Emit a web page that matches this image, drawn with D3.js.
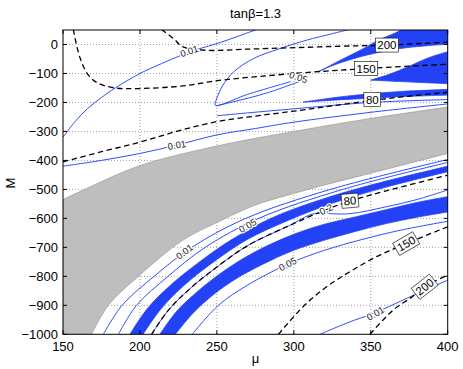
<!DOCTYPE html>
<html>
<head>
<meta charset="utf-8">
<script src="https://cdn.jsdelivr.net/npm/d3@7"></script>
<style>
	body { margin: 0; background: #fff; }
	text { font-family: "Liberation Sans", Arial, Helvetica, sans-serif; }
</style>
</head>
<body>
<script>
// tick labels
	var muTicks = [150, 200, 250, 300, 350, 400],
		mTicks = [0, -100, -200, -300, -400, -500, -600, -700, -800, -900, -1000];

// excluded (grey) region, [mu, M]
	var greyTop = [[150,-535],[164,-500],[200,-418],[250,-350],[300,-300],[350,-255],[400,-216]],
		greyBottom = [[168.6,-1000],[179.5,-900],[199,-800],[228,-675],[251,-612],[275,-554],[300,-514],[325,-478],[350,-444],[375,-410],[400,-376]];

// dashed (black) contours
	var dash150up = [[156.7,52],[161,-45],[166.5,-106],[173,-134],[183.8,-150],[199,-152],[228,-143],[250,-125],[300,-100],[347,-83],[400,-68]],
		dash200up = [[214,52],[221.7,21],[228,-8],[243,-20],[270,-16],[300,-11],[330,-6],[360,-2],[400,8]],
		dash80up = [[150,-405],[175,-370],[200,-337],[225,-298],[250,-266],[275,-247],[300,-230],[325,-212],[351,-193],[375,-178],[400,-165]],
		dash80low = [[207.6,-1000],[218,-920],[232,-845],[250,-768],[270,-694],[297,-625],[320,-572],[337,-539],[360,-505],[400,-451]],
		dash150low = [[290,-1000],[306,-905],[321.3,-836],[336.5,-784],[353.8,-732],[373,-687],[400,-629]],
		dash200low = [[349.5,-1000],[364.6,-916],[375.5,-876],[385,-836],[400,-796]];

// thin blue contours
	var blue001a = [[150,-320],[158,-265],[166,-221],[175,-183],[184,-150],[200,-100],[214,-66],[227,-37],[239,-14],[250,3],[262,25],[276,52]],
		blue005a = [[336,52],[321,32],[309,16],[291,-14],[274,-48],[261,-94],[254,-140],[250,-185],[249,-210],[270,-172],[298,-128]],
		blue005b = [[305,-125],[282,-168],[262,-196],[250,-211]],
		blueUp3 = [[250,-246],[270,-236],[300,-222],[350,-200],[400,-190]],
		blue001b = [[150,-420],[175,-400],[200,-376],[224,-347],[250,-312],[275,-290],[300,-268],[350,-234],[400,-205]],
		blue001c = [[176.2,-1000],[188.4,-900],[209.2,-800],[233.7,-700],[268.8,-600],[323.8,-500],[400,-397]],
		blue005c = [[186,-1000],[197.8,-900],[218.3,-800],[242.4,-700],[277.2,-600],[331.8,-500],[400,-407]],
		blue02 = [[207.6,-1000],[218,-920],[232,-845],[250,-768],[270,-694],[297,-625],[312,-585],[318,-583],[336,-584],[360,-560],[380,-535],[400,-502]],
		blue005d = [[234,-1000],[251,-900],[270,-830],[296,-758],[320,-710],[345,-672],[370,-640],[400,-610]],
		blue001d = [[317,-1000],[335,-960],[353,-925],[375,-872],[400,-813]];

// filled blue bands: upper edge, lower edge
	var band1Top = [[316,-94],[330,-55],[345,-15],[355,15],[364,35],[375,60],[410,75]],
		band1Bot = [[316,-94],[326,-71],[347,-37],[369,-14],[385,-5],[410,5]],
		band2Top = [[350,-123],[362,-103],[375,-75],[388,-45],[410,-10]],
		band2Bot = [[350,-123],[370,-128],[390,-133],[410,-138]],
		band3Top = [[306,-199],[320,-188],[340,-175],[370,-162],[410,-153]],
		band3Bot = [[306,-199],[320,-194],[340,-188],[370,-180],[410,-173]],
		bandATop = [[193.5,-1000],[205,-910],[220,-830],[240,-745],[260,-672],[285,-600],[315,-540],[350,-485],[400,-420]],
		bandABot = [[202,-1000],[214,-910],[230,-825],[250,-742],[270,-672],[295,-610],[325,-548],[360,-492],[400,-439]],
		bandBTop = [[213,-1000],[224,-920],[238,-850],[255,-780],[275,-715],[300,-655],[320,-620],[340,-595],[360,-570],[380,-545],[400,-525]],
		bandBBot = [[223,-1000],[234,-930],[248,-862],[265,-800],[285,-745],[300,-710],[320,-675],[340,-645],[360,-618],[380,-596],[400,-578]];

// contour labels: text, [mu, M], rotation
	var boxLabels = [['200',[360.5,-2],0],['150',[347,-83],0],['80',[351,-190],0],
			['80',[336.5,-539],-5],['150',[373,-687],-30],['200',[385,-836],-38]],
		blueLabels = [['0.01',[232,-23],-18],['0.05',[303,-113],18],['0.01',[224,-347],-10],
			['0.01',[229,-715],-38],['0.05',[270,-625],-30],['0.2',[321,-569],-25],
			['0.05',[296,-758],-28],['0.01',[353,-928],-30]];

// layout
	var width = 463,
		height = 369,
		pLeft = 63, pRight = 447.7, pTop = 30, pBottom = 334.3,
		blue = '#2d4cff',
		bandFill = '#2342f5';

	var x = d3.scaleLinear().domain([150, 400]).range([pLeft, pRight]),
		y = d3.scaleLinear().domain([-1000, 50]).range([pBottom, pTop]);

	var line = d3.line()
		.x(function(d) { return x(d[0]); })
		.y(function(d) { return y(d[1]); })
		.curve(d3.curveCatmullRom.alpha(0.5));

	function poly(a, b) {
		return line(a) + line(b.slice().reverse()).replace(/^M/, 'L') + 'Z';
	}

	var svg = d3.select('body').append('svg')
		.attr('width', width)
		.attr('height', height);

	svg.append('clipPath').attr('id', 'clip')
	  .append('rect')
		.attr('x', pLeft).attr('y', pTop)
		.attr('width', pRight - pLeft).attr('height', pBottom - pTop);

// grid
	var grid = svg.append('g')
		.attr('stroke', '#8a8a8a')
		.attr('stroke-width', 0.8)
		.attr('stroke-dasharray', '1,2');
	grid.selectAll('.gx').data(muTicks.slice(1, -1)).enter().append('line')
		.attr('x1', x).attr('x2', x)
		.attr('y1', pTop).attr('y2', pBottom);
	grid.selectAll('.gy').data(mTicks.slice(0, -1)).enter().append('line')
		.attr('x1', pLeft).attr('x2', pRight)
		.attr('y1', y).attr('y2', y);

	var plot = svg.append('g').attr('clip-path', 'url(#clip)');

// grey region: upper edge, then lower edge back, then straight along the bottom
	plot.append('path')
		.attr('d', line(greyTop) + line(greyBottom.slice().reverse()).replace(/^M/, 'L')
			+ 'L' + x(150) + ',' + y(-1000) + 'Z')
		.attr('fill', '#bebebe')
		.attr('stroke', '#8c8c8c')
		.attr('stroke-width', 0.6);

// blue bands
	[[band1Top, band1Bot], [band2Top, band2Bot], [band3Top, band3Bot],
	 [bandATop, bandABot], [bandBTop, bandBBot]].forEach(function(b) {
		plot.append('path')
			.attr('d', poly(b[0], b[1]))
			.attr('fill', bandFill)
			.attr('stroke', bandFill)
			.attr('stroke-width', 0.8);
	});

// thin blue lines
	[blue001a, blue005a, blue005b, blueUp3, blue001b, blue001c, blue005c, blue02, blue005d, blue001d]
		.forEach(function(l) {
			plot.append('path')
				.attr('d', line(l))
				.attr('fill', 'none')
				.attr('stroke', blue)
				.attr('stroke-width', 1);
		});

// dashed lines
	[dash150up, dash200up, dash80up, dash80low, dash150low, dash200low].forEach(function(l) {
		plot.append('path')
			.attr('d', line(l))
			.attr('fill', 'none')
			.attr('stroke', '#000')
			.attr('stroke-width', 1.3)
			.attr('stroke-dasharray', '5.5,3.5');
	});

// labels on blue lines
	blueLabels.forEach(function(l) {
		svg.append('text')
			.attr('transform', 'translate(' + x(l[1][0]) + ',' + y(l[1][1]) + ') rotate(' + l[2] + ')')
			.attr('text-anchor', 'middle')
			.attr('dy', '0.35em')
			.style('font-size', '9.5px')
			.attr('fill', '#222')
			.attr('stroke', '#fff')
			.attr('stroke-width', 2.5)
			.attr('paint-order', 'stroke')
			.text(l[0]);
	});

// boxed labels on dashed lines
	boxLabels.forEach(function(l) {
		var g = svg.append('g')
			.attr('transform', 'translate(' + x(l[1][0]) + ',' + y(l[1][1]) + ') rotate(' + l[2] + ')');
		var t = g.append('text')
			.attr('text-anchor', 'middle')
			.attr('dy', '0.36em')
			.style('font-size', '11.5px')
			.text(l[0]);
		var w = t.node().getComputedTextLength();
		g.insert('rect', 'text')
			.attr('x', -w / 2 - 2).attr('y', -7)
			.attr('width', w + 4).attr('height', 14)
			.attr('fill', '#fff')
			.attr('stroke', '#000')
			.attr('stroke-width', 0.6);
	});

// box and ticks
	svg.append('rect')
		.attr('x', pLeft).attr('y', pTop)
		.attr('width', pRight - pLeft).attr('height', pBottom - pTop)
		.attr('fill', 'none')
		.attr('stroke', '#000')
		.attr('stroke-width', 1);

	var ticks = svg.append('g').attr('stroke', '#000').attr('stroke-width', 1);
	muTicks.forEach(function(t) {
		ticks.append('line').attr('x1', x(t)).attr('x2', x(t)).attr('y1', pBottom).attr('y2', pBottom - 4);
		ticks.append('line').attr('x1', x(t)).attr('x2', x(t)).attr('y1', pTop).attr('y2', pTop + 4);
	});
	mTicks.forEach(function(t) {
		ticks.append('line').attr('x1', pLeft).attr('x2', pLeft + 4).attr('y1', y(t)).attr('y2', y(t));
		ticks.append('line').attr('x1', pRight).attr('x2', pRight - 4).attr('y1', y(t)).attr('y2', y(t));
	});

	svg.selectAll('.xl').data(muTicks).enter().append('text')
		.attr('x', x).attr('y', 351)
		.attr('text-anchor', 'middle')
		.style('font-size', '13px')
		.text(function(d) { return d; });

	svg.selectAll('.yl').data(mTicks).enter().append('text')
		.attr('x', 58).attr('y', function(d) { return y(d) + 4.6; })
		.attr('text-anchor', 'end')
		.style('font-size', '13px')
		.text(function(d) { return d < 0 ? '\u2212' + (-d) : d; });

// titles
	svg.append('text')
		.attr('x', 255.5).attr('y', 18)
		.attr('text-anchor', 'middle')
		.style('font-size', '13px')
		.text('tanβ=1.3');

	svg.append('text')
		.attr('x', 255.5).attr('y', 363)
		.attr('text-anchor', 'middle')
		.style('font-size', '13px')
		.text('μ');

	svg.append('text')
		.attr('transform', 'translate(15,183) rotate(-90)')
		.attr('text-anchor', 'middle')
		.style('font-size', '13px')
		.text('M');
</script>
</body>
</html>
